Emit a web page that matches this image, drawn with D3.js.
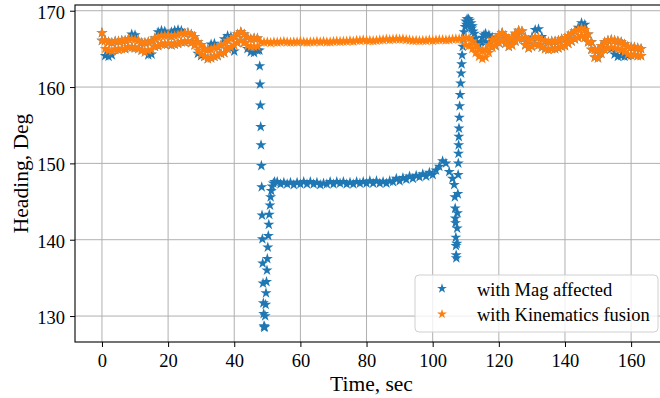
<!DOCTYPE html>
<html>
<head>
<meta charset="utf-8">
<script src="https://cdn.jsdelivr.net/npm/d3@7"></script>
<style>
  body { margin: 0; background: white; }
  svg { display: block; font-family: "Liberation Serif", "Times New Roman", serif; }
</style>
</head>
<body>
<svg id="chart" width="660" height="398"></svg>
<script>
// tick labels
var xTicks = [0, 20, 40, 60, 80, 100, 120, 140, 160]
var yTicks = [130, 140, 150, 160, 170]
var seriesNames = ["with Mag affected", "with Kinematics fusion"]

// noisy stretches are read as an upper and a lower edge, one pair per second

// "with Mag affected", t = 0 .. 47
var magHigh1 = [167.1, 166.1, 165.9, 165.8, 166.0, 166.0, 166.1, 166.1, 166.3, 166.9,
  166.8, 166.1, 165.8, 165.8, 165.9, 166.0, 166.4, 167.2, 167.4, 167.3,
  166.8, 167.2, 167.4, 167.5, 167.4, 167.0, 167.1, 166.9, 166.6, 165.9,
  165.5, 165.0, 164.9, 165.6, 165.7, 165.2, 165.5, 166.3, 166.7, 166.6,
  166.6, 166.9, 167.2, 166.9, 166.5, 166.3, 166.4, 166.4]
var magLow1 = [166.1, 164.1, 164.0, 164.2, 164.9, 164.9, 165.0, 165.0, 165.2, 165.2,
  165.1, 165.0, 164.8, 164.6, 164.2, 164.3, 165.3, 165.4, 165.6, 165.6,
  165.7, 165.5, 165.6, 165.7, 165.9, 165.9, 166.0, 165.8, 165.5, 164.4,
  164.1, 164.0, 163.7, 163.8, 164.0, 164.1, 164.4, 164.5, 165.0, 165.2,
  164.7, 165.8, 166.1, 165.8, 165.0, 164.6, 164.5, 164.8]

// first drop and recovery, [time, heading]
var magDrop1 = [[47.6, 164.8], [47.7, 162.75], [47.8, 160.35], [47.9, 157.6], [48.0, 154.8],
  [48.1, 152.4], [48.2, 149.7], [48.3, 146.9], [48.4, 143.2], [48.5, 140.1], [48.6, 136.9],
  [48.7, 134.3], [48.8, 131.7], [48.9, 130.3], [49.0, 128.7], [49.1, 128.5]]
var magRise1 = [[49.2, 128.6], [49.35, 130], [49.5, 131.5], [49.6, 133], [49.75, 134.5],
  [49.9, 136], [50.0, 137.5], [50.15, 139], [50.3, 140.5], [50.45, 142], [50.6, 143.3],
  [50.8, 144.5], [51.0, 145.6], [51.2, 146.4], [51.45, 147], [51.8, 147.4], [52.2, 147.6]]

// plateau, one sample per second from t = 53
var magPlateau = [147.6, 147.3, 147.5, 147.3, 147.5, 147.2, 147.5, 147.3, 147.6, 147.3,
  147.6, 147.3, 147.5, 147.2, 147.4, 147.3, 147.6, 147.3, 147.6, 147.4,
  147.6, 147.3, 147.5, 147.3, 147.6, 147.4, 147.6, 147.4, 147.7, 147.4,
  147.7, 147.4, 147.6, 147.4, 147.7, 147.6, 148.0, 147.7, 148.1, 147.9,
  148.3, 148.0, 148.4, 148.2, 148.6, 148.3, 148.8, 148.5, 149.1, 149.6,
  150.3, 150.0, 148.9, 148.0]

// second drop and jump back up, [time, heading]
var magDrop2 = [[106.5, 147.2], [106.7, 145.6], [106.8, 144.1], [106.85, 142.8], [106.9, 142.2],
  [107.0, 140.3], [107.05, 139.2], [107.1, 138.0], [107.15, 137.6]]
var magRise2 = [[107.3, 139.5], [107.4, 141.5], [107.5, 143.5], [107.6, 146], [107.7, 148.5],
  [107.75, 150], [107.8, 151.3], [107.85, 152.4], [107.9, 153.5], [107.95, 154.6],
  [108.05, 156], [108.15, 157.5], [108.3, 159], [108.45, 160.5], [108.6, 161.8],
  [108.75, 163], [108.9, 164.2], [109.1, 165.3], [109.3, 166.3], [109.5, 167.2],
  [109.8, 167.9], [110.0, 168.6], [110.2, 168.2], [110.4, 168.9], [110.6, 168.4],
  [110.8, 168.9], [111.0, 168.3], [111.2, 168.7], [111.4, 168.0], [111.6, 168.4],
  [111.8, 167.7], [112.0, 168.0], [112.2, 167.3], [112.6, 167.0], [113.0, 166.4],
  [113.5, 165.8], [114.0, 165.5], [114.5, 165.9], [115.0, 166.5], [115.5, 166.8]]

// t = 116 .. 163
var magHigh2 = [167.0, 166.8, 166.5, 166.4, 166.8, 167.1, 166.7, 166.3, 166.5, 167.0,
  167.4, 167.3, 166.5, 166.1, 166.5, 167.5, 167.6, 166.6, 166.0, 165.9,
  166.0, 166.0, 166.1, 166.3, 166.4, 166.7, 167.0, 167.3, 167.8, 168.4,
  168.2, 166.9, 165.9, 164.9, 164.8, 165.4, 165.9, 166.1, 166.2, 166.1,
  166.0, 165.9, 165.6, 165.3, 165.2, 165.2, 165.1, 165.0]
var magLow2 = [165.9, 165.6, 165.2, 165.4, 165.8, 166.1, 165.7, 165.3, 165.5, 166.0,
  166.4, 166.3, 165.5, 165.1, 165.3, 165.6, 165.5, 165.2, 165.0, 164.9,
  165.0, 165.0, 165.1, 165.3, 165.4, 165.7, 166.0, 166.3, 166.5, 166.7,
  166.5, 165.9, 164.9, 163.9, 163.8, 164.4, 164.9, 165.1, 165.0, 164.3,
  164.0, 164.1, 164.0, 164.1, 164.2, 164.2, 164.1, 164.1]

// "with Kinematics fusion", t = 0 .. 47
var kinHigh1 = [167.1, 166.1, 165.9, 165.8, 166.0, 166.0, 166.1, 166.1, 166.3, 166.3,
  166.2, 166.1, 165.8, 165.8, 165.9, 166.0, 166.4, 166.5, 166.7, 166.7,
  166.8, 166.6, 166.7, 166.8, 167.0, 167.0, 167.1, 166.9, 166.6, 165.9,
  165.5, 165.0, 164.9, 164.9, 165.1, 165.2, 165.5, 165.6, 166.1, 166.3,
  166.6, 166.9, 167.2, 166.9, 166.5, 166.3, 166.4, 166.4]
var kinLow1 = [166.1, 165.0, 164.8, 164.7, 164.9, 164.9, 165.0, 165.0, 165.2, 165.2,
  165.1, 165.0, 164.8, 164.6, 164.8, 164.9, 165.3, 165.4, 165.6, 165.6,
  165.7, 165.5, 165.6, 165.7, 165.9, 165.9, 166.0, 165.8, 165.5, 164.8,
  164.3, 164.0, 163.7, 163.8, 164.0, 164.1, 164.4, 164.5, 165.0, 165.2,
  165.5, 165.8, 166.1, 165.8, 165.4, 165.3, 165.3, 165.3]

// steady stretch, one sample per second from t = 48
var kinFlat = [165.9, 165.85, 165.9, 165.8, 165.9, 165.85, 165.9, 165.95, 165.9, 165.85,
  165.9, 165.9, 165.95, 165.9, 165.85, 165.9, 165.9, 165.95, 165.9, 165.95,
  165.9, 165.9, 165.95, 166.0, 165.95, 166.0, 166.0, 166.05, 166.0, 166.1,
  166.1, 166.15, 166.1, 166.1, 166.05, 166.1, 166.15, 166.2, 166.25, 166.2,
  166.25, 166.3, 166.25, 166.3, 166.2, 166.15, 166.1, 166.1, 166.05, 166.1,
  166.1, 166.15, 166.1, 166.15, 166.2, 166.2, 166.15, 166.2, 166.25, 166.3,
  166.3, 166.25]

// t = 110 .. 163
var kinHigh2 = [166.5, 166.4, 166.0, 165.5, 165.0, 164.7, 164.9, 165.5, 166.2, 166.4,
  166.8, 167.1, 166.7, 166.3, 166.5, 167.0, 167.4, 167.3, 166.5, 166.1,
  166.3, 166.6, 166.5, 166.2, 166.0, 165.9, 166.0, 166.0, 166.1, 166.3,
  166.4, 166.7, 167.0, 167.3, 167.5, 167.7, 167.5, 166.9, 165.9, 164.9,
  164.8, 165.4, 165.9, 166.1, 166.2, 166.1, 166.0, 165.9, 165.6, 165.3,
  165.2, 165.2, 165.1, 165.0]
var kinLow2 = [165.5, 165.4, 165.0, 164.5, 164.0, 163.7, 163.9, 164.5, 165.2, 165.4,
  165.8, 166.1, 165.7, 165.3, 165.5, 166.0, 166.4, 166.3, 165.5, 165.1,
  165.3, 165.6, 165.5, 165.2, 165.0, 164.9, 165.0, 165.0, 165.1, 165.3,
  165.4, 165.7, 166.0, 166.3, 166.5, 166.7, 166.5, 165.9, 164.9, 163.9,
  163.8, 164.4, 164.9, 165.1, 165.2, 165.1, 165.0, 164.9, 164.6, 164.3,
  164.2, 164.2, 164.1, 164.1]

var MAG_COLOR = "#1f77b4"
var KIN_COLOR = "#ff7f0e"
var STAR_SIZE = 38
var LEGEND_STAR_SIZE = 30

var margin = {left: 75, top: 5, right: 668, bottom: 342}

function perSecond(start, vals) {
  return vals.map(function(v, i) { return [start + i, v] })
}

var magPoints = [].concat(perSecond(0, magHigh1), perSecond(0, magLow1), magDrop1, magRise1,
  perSecond(53, magPlateau), magDrop2, magRise2,
  perSecond(116, magHigh2), perSecond(116, magLow2))
var kinPoints = [].concat(perSecond(0, kinHigh1), perSecond(0, kinLow1),
  perSecond(48, kinFlat), perSecond(110, kinHigh2), perSecond(110, kinLow2))

var x = d3.scaleLinear().domain([-8.15, 171.15]).range([margin.left, margin.right])
var y = d3.scaleLinear().domain([126.6, 170.75]).range([margin.bottom, margin.top])

var vis = d3.select("#chart")

function drawGrid() {
  var grid = vis.append("g").attr("class", "grid")
    .attr("stroke", "#b0b0b0").attr("stroke-width", 1)
  grid.selectAll(".vgrid").data(xTicks)
    .enter().append("line")
      .attr("x1", function(d) { return x(d) }).attr("x2", function(d) { return x(d) })
      .attr("y1", margin.top).attr("y2", margin.bottom)
  grid.selectAll(".hgrid").data(yTicks)
    .enter().append("line")
      .attr("y1", function(d) { return y(d) }).attr("y2", function(d) { return y(d) })
      .attr("x1", margin.left).attr("x2", margin.right)
}

function drawStars(points, color) {
  var star = d3.symbol().type(d3.symbolStar).size(STAR_SIZE)
  vis.append("g")
    .selectAll("path")
    .data(points)
    .enter().append("path")
      .attr("d", star)
      .attr("fill", color)
      .attr("transform", function(d) {
        return "translate(" + x(d[0]) + "," + y(d[1]) + ")"
      })
}

function drawAxes() {
  var xAxis = vis.append("g")
    .attr("transform", "translate(0," + margin.bottom + ")")
    .call(d3.axisBottom(x).tickValues(xTicks).tickSize(5).tickPadding(7).tickSizeOuter(0))
  var yAxis = vis.append("g")
    .attr("transform", "translate(" + margin.left + ",0)")
    .call(d3.axisLeft(y).tickValues(yTicks).tickSize(5).tickPadding(5).tickSizeOuter(0))
  yAxis.selectAll("text").attr("dy", "0.41em")

  ;[xAxis, yAxis].forEach(function(a) {
    // d3 puts sans-serif on the axis group, use the page serif instead
    a.attr("font-family", null).attr("font-size", null)
    a.select(".domain").remove()
    a.selectAll("text").attr("font-size", 18.5).attr("fill", "#000")
    a.selectAll("line").attr("stroke", "#000").attr("stroke-width", 1)
  })

  // spines
  vis.append("rect")
    .attr("x", margin.left).attr("y", margin.top)
    .attr("width", margin.right - margin.left).attr("height", margin.bottom - margin.top)
    .attr("fill", "none").attr("stroke", "#000").attr("stroke-width", 1.1)

  vis.append("text")
    .attr("x", (margin.left + margin.right) / 2).attr("y", 391)
    .attr("text-anchor", "middle").attr("font-size", 21.5)
    .text("Time, sec")

  vis.append("text")
    .attr("transform", "translate(28," + (margin.top + margin.bottom) / 2 + ") rotate(-90)")
    .attr("text-anchor", "middle").attr("font-size", 21.5)
    .text("Heading, Deg")
}

function drawLegend() {
  var star = d3.symbol().type(d3.symbolStar).size(LEGEND_STAR_SIZE)
  var g = vis.append("g")
  g.append("rect")
    .attr("x", 415).attr("y", 275).attr("width", 243).attr("height", 57)
    .attr("rx", 4).attr("ry", 4)
    .attr("fill", "white").attr("fill-opacity", 0.8)
    .attr("stroke", "#d0d0d0").attr("stroke-width", 1)

  var rows = g.selectAll(".entry")
    .data([{name: seriesNames[0], color: MAG_COLOR}, {name: seriesNames[1], color: KIN_COLOR}])
    .enter().append("g")
      .attr("transform", function(d, i) { return "translate(0," + (i * 25.6) + ")" })
  rows.append("path")
    .attr("d", star)
    .attr("fill", function(d) { return d.color })
    .attr("transform", "translate(442,288.5)")
  rows.append("text")
    .attr("x", 477).attr("y", 295.5)
    .attr("font-size", 18.5)
    .text(function(d) { return d.name })
}

drawGrid()
drawStars(magPoints, MAG_COLOR)
drawStars(kinPoints, KIN_COLOR)
drawAxes()
drawLegend()
</script>
</body>
</html>
